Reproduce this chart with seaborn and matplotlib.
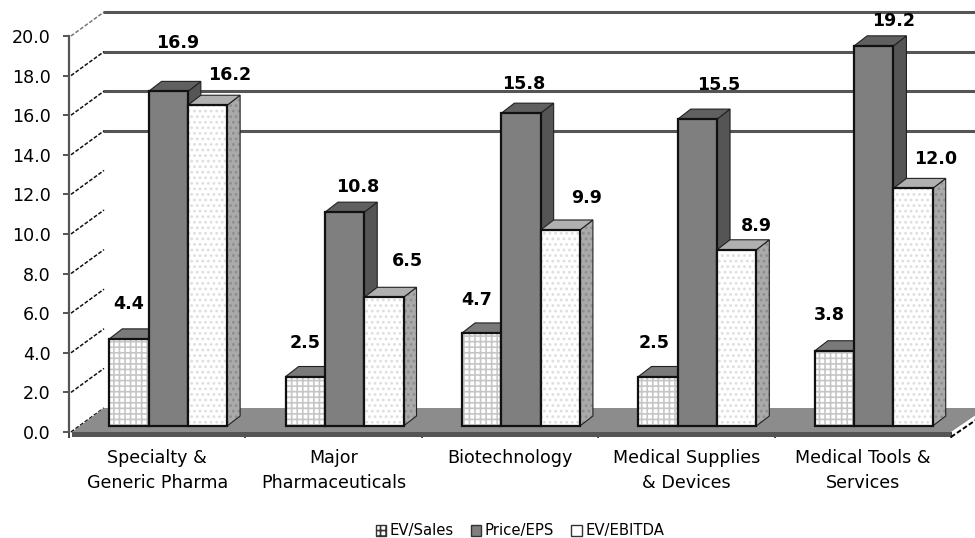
import matplotlib
matplotlib.use("Agg")
import matplotlib.pyplot as plt
import numpy as np
import pandas as pd
import seaborn as sns
from matplotlib.patches import Polygon, Rectangle, Patch
from matplotlib.transforms import Affine2D

sectors = ["Specialty &\nGeneric Pharma", "Major\nPharmaceuticals", "Biotechnology",
           "Medical Supplies\n& Devices", "Medical Tools &\nServices"]
metrics = ["EV/Sales", "Price/EPS", "EV/EBITDA"]
ev_sales = [4.4, 2.5, 4.7, 2.5, 3.8]
price_eps = [16.9, 10.8, 15.8, 15.5, 19.2]
ev_ebitda = [16.2, 6.5, 9.9, 8.9, 12.0]
wall_grid = [14, 16, 18, 20]

# label nudges in pixels relative to the top-centre of each bar's front face
nudge = {
    "EV/Sales": [(0, 35), (0, 34), (-5, 33), (-4, 34), (-5, 36)],
    "Price/EPS": [(9, 48), (13, 25), (3, 29), (21, 34), (20, 25)],
    "EV/EBITDA": [(22, 30), (24, 36), (26, 32), (20, 24), (23, 29)],
}

W, H = 975, 538
sns.set_theme(style="white")
plt.rcParams["font.family"] = ["DejaVu Sans"]
plt.rcParams["hatch.linewidth"] = 1.2
fig = plt.figure(figsize=(W / 100, H / 100), dpi=100, facecolor="white")
ax = fig.add_axes([69 / W, (H - 432) / H, 882 / W, 396 / H])

df = pd.DataFrame({
    "sector": sectors * 3,
    "metric": np.repeat(metrics, 5),
    "value": ev_sales + price_eps + ev_ebitda,
})
fills = {"EV/Sales": "#ffffff", "Price/EPS": "#7f7f7f", "EV/EBITDA": "#ffffff"}
sns.barplot(data=df, x="sector", y="value", hue="metric", hue_order=metrics, palette=fills,
            width=0.668, gap=0, saturation=1, legend=False, ax=ax)
ax.set_xlim(-0.5, 4.5)
ax.set_ylim(0, 20)
ax.set_xlabel("")
ax.set_ylabel("")
bars = sorted([p for p in ax.patches if p.get_height() > 0], key=lambda p: p.get_x())

DARK = "#555555"
ax.set_yticks(np.arange(0, 21, 2))
ax.set_yticklabels([f"{v:.1f}" for v in np.arange(0, 21, 2)])
ax.set_xticks(np.arange(-0.5, 5, 1), minor=True)
ax.tick_params(axis="x", which="major", length=0, pad=12, labelsize=12.6, colors="black")
ax.tick_params(axis="x", which="minor", length=4.5, width=1.2, color="#222222", bottom=True)
ax.tick_params(axis="y", left=True, length=4.5, width=1.4, color=DARK, pad=8.5, labelsize=12.6,
               labelcolor="black")
for lab in ax.get_xticklabels():
    lab.set_linespacing(1.49)
for s in ["top", "right", "bottom"]:
    ax.spines[s].set_visible(False)
ax.spines["left"].set_color(DARK)
ax.spines["left"].set_linewidth(1.6)
ax.patch.set_alpha(0)

WX, WY = 35, 24      # wall depth in pixels
BX, BY = 11, 6       # bar inset from the front edge
DX, DY = 13, 10      # bar depth
identity = Affine2D()
wall = ax.transData + Affine2D().translate(WX, WY)

# floor
(x0, y0), (x1, _) = ax.transData.transform([(-0.5, 0), (4.5, 0)])
ax.add_patch(Polygon([(x0 + 3, y0), (x0 + WX, y0 + WY), (x1 + WX, y0 + WY), (x1, y0)],
                     closed=True, transform=identity, fc="#8c8c8c", ec="none", zorder=1, clip_on=False))
ax.add_patch(Polygon([(x0 + 3, y0), (x1, y0), (x1, y0 - 5), (x0 + 3, y0 - 5)],
                     closed=True, transform=identity, fc="#555555", ec="none", zorder=1, clip_on=False))
ax.plot([x1, x1 + WX], [y0 - 5, y0 - 5 + WY], transform=identity, color="black", lw=1.4,
        ls=(0, (2.5, 1.2)), clip_on=False, zorder=1)

# back wall grid and stubs
for v in wall_grid:
    ax.plot([-0.5, 4.5], [v, v], transform=wall, color=DARK, lw=2.2, clip_on=False, zorder=0.5)
for v in np.arange(0, 21, 2):
    (px, py) = ax.transData.transform((-0.5, v))
    col = "#777777" if v == 20 else "#111111"
    ax.plot([px + 2, px + WX], [py, py + WY], transform=identity, color=col, lw=1.1,
            ls=(0, (2.5, 1.2)), clip_on=False, zorder=0.6)

shift = ax.transData + Affine2D().translate(BX, BY)
values = {m: v for m, v in zip(metrics, [ev_sales, price_eps, ev_ebitda])}
order = sorted(
    [(i, j, m) for j, m in enumerate(metrics) for i in range(5)],
    key=lambda t: (t[0], t[1]),
)
look = {
    "EV/Sales": dict(hatch="+++", hc="#c6c6c6", side="#cfcfcf", top="#7a7a7a", shatch=None),
    "Price/EPS": dict(hatch=None, hc="#7f7f7f", side="#555555", top="#606060", shatch=None),
    "EV/EBITDA": dict(hatch="...", hc="#dedede", side="#aaaaaa", top="#b0b0b0", shatch="..."),
}
for z, (bar, (i, j, m)) in enumerate(zip(bars, order)):
    zb = 3 + z * 0.1
    x, w, h = bar.get_x(), bar.get_width(), bar.get_height()
    (lx, by), (rx, ty) = shift.transform([(x, 0), (x + w, h)])
    k = look[m]
    side_pts = [(rx, by), (rx + DX, by + DY), (rx + DX, ty + DY), (rx, ty)]
    if k["shatch"]:
        ax.add_patch(Polygon(side_pts, closed=True, transform=identity, fc=k["side"], ec="#8e8e8e",
                             lw=0, hatch=k["shatch"], zorder=zb, clip_on=False))
        ax.add_patch(Polygon(side_pts, closed=True, transform=identity, fill=False, ec="#222222",
                             lw=0.8, zorder=zb, clip_on=False))
    else:
        ax.add_patch(Polygon(side_pts, closed=True, transform=identity, fc=k["side"], ec="#222222",
                             lw=0.8, zorder=zb, clip_on=False))
    ax.add_patch(Polygon([(lx, ty), (lx + DX, ty + DY), (rx + DX, ty + DY), (rx, ty)], closed=True,
                         transform=identity, fc=k["top"], ec="#222222", lw=0.8, zorder=zb, clip_on=False))
    bar.set_transform(shift)
    bar.set_zorder(zb + 0.01)
    bar.set_clip_on(False)
    bar.set_linewidth(0)
    if k["hatch"]:
        bar.set_hatch(k["hatch"])
        bar.set_edgecolor(k["hc"])
    ax.add_patch(Rectangle((x, 0), w, h, transform=shift, fill=False, ec="#111111", lw=1.6,
                           zorder=zb + 0.02, clip_on=False))
    dx_l, dy_l = nudge[m][i]
    ax.text((lx + rx) / 2 + dx_l, ty + dy_l, f"{values[m][i]:.1f}", transform=identity, ha="center",
            va="center", fontsize=12.6, fontweight="bold", color="black", zorder=9, clip_on=False)

handles = [
    Patch(fc="white", ec="#333333", hatch="+++", lw=1.0, label="EV/Sales"),
    Patch(fc="#7f7f7f", ec="#333333", lw=1.0, label="Price/EPS"),
    Patch(fc="white", ec="#333333", lw=1.0, label="EV/EBITDA"),
]
fig.legend(handles=handles, loc="center", bbox_to_anchor=(520 / W, (H - 531) / H), ncol=3, frameon=False,
           fontsize=10.7, handlelength=0.7, handleheight=0.7, handletextpad=0.25, columnspacing=1.15,
           labelcolor="black", borderpad=0)

fig.savefig("out.png", dpi=100, facecolor="white")
